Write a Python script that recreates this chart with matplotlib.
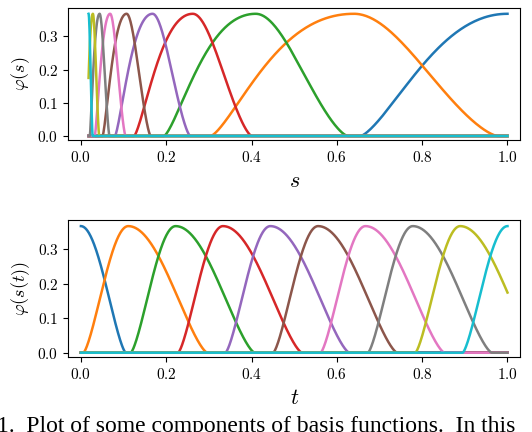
import numpy as np
import matplotlib
matplotlib.use("Agg")
import matplotlib.pyplot as plt

plt.rcParams['mathtext.fontset'] = 'cm'
plt.rcParams['font.family'] = ['DejaVu Serif']

# bump peaks (in t) and left/right half-widths
centers = [0.0, 0.111, 0.222, 0.333, 0.444, 0.556, 0.667, 0.778, 0.889, 1.0]
left_w = [0.105] * 10
right_w = [0.105, 0.185, 0.185, 0.185, 0.185, 0.185, 0.185, 0.185, 0.185, 0.185]
peak = 0.3679
s_min = 0.018  # s(t) = s_min ** t
xticks = [0.0, 0.2, 0.4, 0.6, 0.8, 1.0]
yticks = [0.0, 0.1, 0.2, 0.3]

t = np.linspace(0, 1, 1000)
s = s_min ** t

def bump(x, c, rl, rr):
    u = np.where(x < c, (x - c) / rl, (x - c) / rr)
    out = np.zeros_like(x)
    m = np.abs(u) < 1
    out[m] = peak * np.cos(np.pi * u[m] / 2) ** 1.4
    return out

fig = plt.figure(figsize=(5.32, 4.32), dpi=100)
ax1 = fig.add_axes([0.128, 0.676, 0.85, 0.306])
ax2 = fig.add_axes([0.128, 0.174, 0.85, 0.317])

for c, rl, rr in zip(centers, left_w, right_w):
    y = bump(t, c, rl, rr)
    ax1.plot(s, y, lw=1.8)
    ax2.plot(t, y, lw=1.8)

for ax in (ax1, ax2):
    ax.set_xlim(-0.03, 1.03)
    ax.set_ylim(-0.012, 0.386)
    ax.set_yticks(yticks)
    ax.set_yticklabels([f'${v:.1f}$' for v in yticks])
    ax.set_xticks(xticks)
    ax.set_xticklabels([f'${v:.1f}$' for v in xticks])
    ax.tick_params(labelsize=11)
ax1.set_xlabel(r'$s$', fontsize=16)
ax1.set_ylabel(r'$\varphi(s)$', fontsize=13)
ax2.set_xlabel(r'$t$', fontsize=16)
ax2.set_ylabel(r'$\varphi(s(t))$', fontsize=13)

fig.text(-0.005, 1 - 416 / 432, '1.  Plot of some components of basis functions.  In this',
         fontsize=17, ha='left', va='top', family='Liberation Serif')
fig.savefig('out.png', dpi=100)
